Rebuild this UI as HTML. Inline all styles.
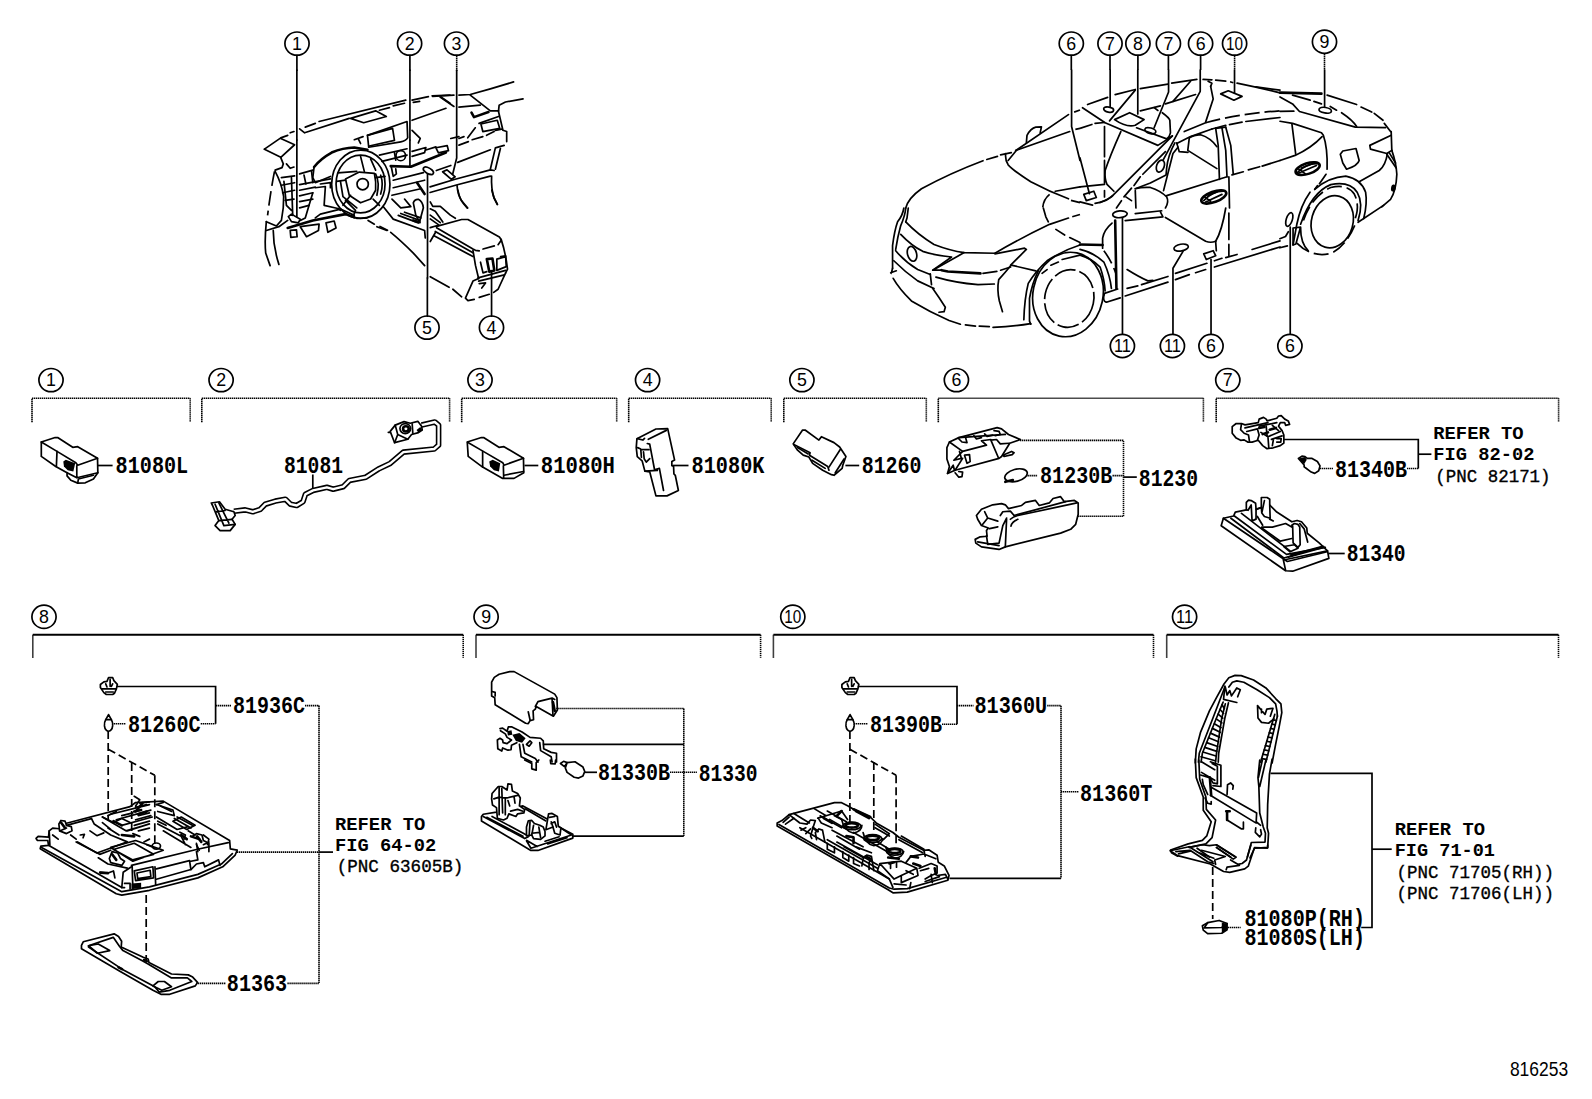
<!DOCTYPE html>
<html><head><meta charset="utf-8"><title>816253</title>
<style>
html,body{margin:0;padding:0;background:#fff;}
body{width:1592px;height:1099px;overflow:hidden;font-family:"Liberation Sans",sans-serif;}
svg{display:block;position:absolute;left:0;top:0;}
.c{fill:none;stroke:#000;stroke-width:1.7;}
.n{font-family:"Liberation Sans",sans-serif;fill:#000;}
.L{font-family:"Liberation Mono",monospace;font-weight:bold;fill:#000;}
.R{font-family:"Liberation Mono",monospace;font-weight:normal;fill:#000;stroke:#000;stroke-width:0.35;}
.bd{fill:none;stroke:#000;stroke-width:1.6;stroke-dasharray:1.4 0.6;}
.bs{fill:none;stroke:#000;stroke-width:2;}
.ld{fill:none;stroke:#000;stroke-width:1.7;}
.lt{fill:none;stroke:#000;stroke-width:1.6;stroke-dasharray:1.4 0.6;}
.dash{fill:none;stroke:#000;stroke-width:1.7;stroke-dasharray:8 4;}
.p{fill:none;stroke:#000;stroke-width:1.3;stroke-linejoin:round;stroke-linecap:round;}
.pt{fill:none;stroke:#000;stroke-width:0.9;stroke-linejoin:round;stroke-linecap:round;}
.pw{fill:#fff;stroke:#000;stroke-width:1.7;stroke-linejoin:round;stroke-linecap:round;vector-effect:non-scaling-stroke;}
.pd{fill:none;stroke:#000;stroke-width:1.2;stroke-dasharray:9 3;stroke-linejoin:round;}
.pf{fill:#000;stroke:none;}
.cs,.cd,.ck{fill:none;stroke:#000;stroke-width:1.7;vector-effect:non-scaling-stroke;stroke-linecap:round;stroke-linejoin:round;}
.cd{stroke-dasharray:15 5;stroke-linecap:butt;}
.ck{stroke-width:2.6;}
</style></head><body>
<svg width="1592" height="1099" viewBox="0 0 1592 1099">
<rect x="0" y="0" width="1592" height="1099" fill="#fff"/>
<!-- 10_car.svg -->
<g transform="translate(880 70) scale(0.12563)">
<path d="M205,1098 Q225,1020 330,945 Q560,820 820,722" class="cs"/>
<path d="M850,712 L935,688 M960,676 L1045,658" class="cs"/>
<path d="M1000,665 Q995,720 1020,755 Q1060,800 1200,890 Q1350,970 1500,1025" class="cs"/>
<path d="M1520,1038 L1592,1056" class="cd"/>
<path d="M1020,720 L1090,635 L1500,355" class="cs"/>
<path d="M1545,335 L1592,318" class="cd"/>
<path d="M1080,640 L1510,490" class="cs"/>
<path d="M1555,472 L1592,465" class="cd"/>
<path d="M1165,580 L1170,520 Q1200,465 1240,455 L1285,452 L1275,500" class="cs"/>
<path d="M1525,0 V450 L1592,720" class="cs"/>
<path d="M1395,965 L1592,930" class="cs"/>
<path d="M1350,990 Q1300,1030 1295,1098" class="cd"/>
</g>
<g transform="translate(1080 70) scale(0.12563)">
<path d="M60,275 L220,218 M280,196 L440,155 M480,148 L700,112 M730,105 L930,75" class="cs"/>
<path d="M980,75 L1050,78 M1020,90 L1050,105 L1040,130" class="cs"/>
<path d="M1080,80 L1160,88 M1200,95 L1215,100" class="cs"/>
<path d="M1250,105 Q1420,140 1592,182" class="cs"/>
<path d="M1400,135 L1592,160" class="cs"/>
<path d="M20,300 L200,420 L620,600 L700,548 L735,525" class="cs"/>
<path d="M0,465 L100,432" class="cd"/>
<path d="M120,425 L195,418" class="cs"/>
<path d="M440,160 L235,405" class="cs"/>
<path d="M880,90 L740,250" class="cs"/>
<path d="M920,195 L680,270 M640,285 L480,325" class="cs"/>
<path d="M590,300 L620,322 M655,340 Q710,380 715,400 L720,500 Q715,530 690,548 L450,460" class="cs"/>
<ellipse cx="228" cy="315" rx="40" ry="20" transform="rotate(10 228 315)" class="cs"/>
<path d="M275,395 L395,340 L510,395 L440,440 Q370,460 275,395 Z" class="cs"/>
<ellipse cx="560" cy="483" rx="45" ry="22" transform="rotate(15 560 483)" class="cs"/>
<path d="M1120,190 L1180,165 L1290,210 L1225,240 Z" class="cs"/>
<path d="M240,0 V290" class="cs"/>
<path d="M460,0 V350" class="cs"/>
<path d="M705,0 V175 L590,460" class="cs"/>
<path d="M957,0 V170 L660,720" class="cs"/>
<path d="M1230,0 V185" class="cs"/>
<path d="M735,525 L250,1010 Q215,1040 160,1055" class="cs"/>
<path d="M680,650 L500,830 M480,850 L430,920 M410,940 L350,1010 M330,1040 L290,1098" class="cs"/>
<ellipse cx="640" cy="765" rx="30" ry="50" transform="rotate(20 640 765)" class="cs"/>
<path d="M755,580 Q700,680 690,780 L685,835 L560,900 L440,945" class="cs"/>
<path d="M780,615 L740,665 L665,960" class="cs"/>
<path d="M770,580 L790,650 L860,655" class="cs"/>
<path d="M830,490 L1000,420" class="cs"/>
<path d="M1000,420 Q1250,350 1592,325" class="cd"/>
<path d="M770,585 L880,530 L1050,470" class="cs"/>
<path d="M1050,470 L1160,440 M1190,435 L1290,415 M1320,410 L1592,378" class="cs"/>
<path d="M1040,130 L1060,230 L1000,415" class="cs"/>
<path d="M870,540 Q900,520 960,515 Q1040,540 1090,610" class="cs"/>
<path d="M870,540 L858,640 L1090,785" class="cs"/>
<path d="M1080,465 L1100,600 L1110,870" class="cs"/>
<path d="M1130,460 L1160,640 L1170,850" class="cs"/>
<path d="M1160,455 L1200,600 L1220,830" class="cs"/>
<path d="M1080,465 L1160,455" class="cs"/>
<path d="M690,1000 L1170,850" class="cs"/>
<path d="M1210,835 L1300,810 M1340,795 L1430,770 M1450,765 L1592,720" class="cs"/>
<path d="M1185,850 L1190,1098" class="cs"/>
<ellipse cx="1065" cy="1010" rx="105" ry="42" transform="rotate(-20 1065 1010)" class="ck"/>
<path d="M985,1040 Q1060,960 1150,965" class="cs"/>
<path d="M1000,1050 L1130,990 M1020,1000 L1110,960 M990,1010 L1040,1045" class="cs"/>
<path d="M440,945 Q500,930 560,935 Q640,960 690,1010 Q710,1050 680,1098" class="cs"/>
<path d="M440,960 L445,1098" class="cs"/>
<path d="M365,1010 L410,1040" class="cs"/>
<path d="M195,450 V690 M195,720 V900 M195,960 V1010" class="cs"/>
<path d="M325,490 Q240,680 200,800 Q195,870 215,910 L270,965" class="cs"/>
<path d="M0,700 L75,985" class="cs"/>
<path d="M0,930 L195,910" class="cs"/>
<path d="M30,990 L110,965 L130,1015 L50,1040 Z" class="cs"/>
<path d="M120,1062 Q200,1050 260,1000" class="cs"/>
<path d="M0,1050 L100,1075" class="cs"/>
</g>
<g transform="translate(1280 70) scale(0.12563)">
<path d="M0,180 L330,188" class="ck"/>
<path d="M375,200 L610,275 M645,295 L730,335 M750,345 L820,400 M830,425 L880,490" class="cs"/>
<path d="M0,215 L100,270 L155,330 L600,455 L840,458" class="cs"/>
<path d="M100,200 L240,240 M270,250 L330,270" class="cs"/>
<path d="M400,290 L450,320 M490,340 Q580,400 610,450" class="cs"/>
<path d="M0,330 L110,328" class="cs"/>
<path d="M355,0 V290" class="cs"/>
<ellipse cx="360" cy="320" rx="50" ry="22" transform="rotate(10 360 320)" class="cs"/>
<path d="M0,408 L100,425 L330,500 L345,520 Q380,620 375,790" class="cs"/>
<path d="M335,530 Q250,620 120,680 L0,720" class="cs"/>
<path d="M95,430 L125,670" class="cs"/>
<ellipse cx="220" cy="785" rx="100" ry="42" transform="rotate(-18 220 785)" class="ck"/>
<path d="M140,815 Q210,740 300,745" class="cs"/>
<path d="M150,820 L290,760 M170,780 L260,745 M150,790 L200,825" class="cs"/>
<path d="M480,670 L500,645 L605,625 L630,720 Q620,760 530,790 L500,740 Z" class="cs"/>
<path d="M885,520 L715,600 L720,630 L850,665 L890,640" class="cs"/>
<path d="M885,490 L890,640" class="cs"/>
<path d="M850,670 L925,780 M870,660 L920,740" class="cs"/>
<path d="M855,665 Q840,760 790,800 L630,890" class="cs"/>
<path d="M890,640 Q925,740 930,830 Q925,960 880,1030 L810,1090" class="cs"/>
<ellipse cx="902" cy="940" rx="8" ry="18" transform="rotate(10 902 940)" class="ck"/>
</g>
<g transform="translate(880 208) scale(0.12563)">
<path d="M205,0 Q200,60 165,140 Q140,230 125,330" class="cs"/>
<path d="M225,0 L215,80 L205,110" class="cs"/>
<path d="M190,0 Q180,60 140,110 Q115,180 100,300 L100,480" class="cs"/>
<path d="M205,110 Q300,210 430,290 Q560,340 670,355 L915,360" class="cs"/>
<path d="M165,210 Q250,300 340,345 Q430,375 570,390 L420,495" class="cs"/>
<path d="M125,340 Q200,430 300,490 L400,530" class="cs"/>
<ellipse cx="255" cy="365" rx="36" ry="60" transform="rotate(-15 255 365)" class="cs"/>
<path d="M110,420 Q200,510 300,580 L430,640" class="cs"/>
<path d="M85,515 L130,500 M100,480 L90,520" class="cs"/>
<path d="M105,560 Q150,640 250,740 Q400,830 550,895 L640,925" class="cs"/>
<path d="M680,930 L760,940 M790,940 L870,945" class="cs"/>
<path d="M900,950 Q1050,945 1200,920" class="cs"/>
<path d="M400,525 L410,610 M420,640 Q470,710 520,790 L510,825 L470,830" class="cs"/>
<path d="M670,355 L420,495 L490,495" class="cs"/>
<path d="M490,495 L540,505 L800,520" class="ck"/>
<path d="M820,520 L930,505 M960,495 L1040,470" class="cs"/>
<path d="M1040,455 L1165,330 L1150,320 L915,365" class="cs"/>
<path d="M915,360 Q1100,250 1350,130 L1500,80" class="cs"/>
<path d="M1530,70 L1592,52" class="cd"/>
<path d="M445,550 Q600,595 780,610 L910,605" class="cs"/>
<path d="M1040,460 Q1000,510 945,570 Q930,650 950,740 L975,825" class="cs"/>
<path d="M1045,455 L1240,500" class="cs"/>
<path d="M1592,295 Q1450,340 1330,420 Q1240,500 1180,600 Q1150,720 1145,890" class="cs"/>
<path d="M1260,500 Q1210,600 1190,720 L1190,900 L1200,925" class="cs"/>
<path d="M1360,455 L1420,430 M1450,410 L1592,375" class="cs"/>
<path d="M1300,0 L1320,70 L1340,110 M1400,170 L1470,215 M1510,235 L1592,275" class="cs"/>
<path d="M1290,520 L1330,490" class="cs"/>
</g>
<g transform="translate(1080 208) scale(0.12563)">
<ellipse cx="318" cy="50" rx="58" ry="27" transform="rotate(-5 318 50)" class="cs"/>
<path d="M338,80 V1000" class="cs"/>
<path d="M280,100 L290,640" class="ck"/>
<path d="M255,120 Q190,175 180,240 L180,320" class="cs"/>
<path d="M0,290 L180,295" class="ck"/>
<path d="M360,100 L660,70 L640,30" class="cs"/>
<path d="M440,45 L650,22" class="cs"/>
<path d="M680,75 L1000,265 Q1040,280 1080,265" class="cs"/>
<path d="M1080,265 Q1130,180 1160,0" class="cs"/>
<path d="M1080,270 L1085,340" class="cs"/>
<path d="M1185,40 V250 M1185,290 V380" class="cs"/>
<path d="M375,490 Q470,550 540,580 L580,575" class="cs"/>
<path d="M375,640 L460,620 M490,610 L700,545 M760,520 L1010,440 M1070,420 L1130,400 M1160,395 L1250,370 M1370,330 L1592,262" class="cs"/>
<path d="M210,750 Q175,740 195,680 L300,645" class="cs"/>
<path d="M210,750 L320,715 M360,700 L700,590 M760,570 L870,530 M920,515 L1000,490 M1070,470 L1592,310" class="cs"/>
<ellipse cx="805" cy="315" rx="58" ry="27" transform="rotate(-10 805 315)" class="cs"/>
<path d="M820,345 L740,480 V1000" class="cs"/>
<path d="M985,365 L1060,340 L1080,380 L1005,410 Z" class="cs"/>
<path d="M1043,410 V1000" class="cs"/>
<path d="M0,330 Q100,350 190,430 Q240,540 250,640" class="cs"/>
<path d="M0,375 Q90,400 160,470 Q195,570 200,660" class="cs"/>
<path d="M190,340 Q250,420 285,520" class="cd"/>
</g>
<g transform="translate(1180 130) scale(0.18843)">
<path d="M775,235 L740,285 M730,295 L715,315" class="cs"/>
<path d="M715,315 Q790,250 880,245 Q960,260 985,330 Q995,390 975,470" class="cs"/>
<path d="M690,330 Q640,400 620,500 L600,610" class="cs"/>
<path d="M640,500 Q700,330 800,290 Q900,270 940,330 Q975,390 945,480" class="cs"/>
<path d="M655,480 Q700,350 800,305 Q890,285 925,340 Q955,400 930,470" class="cd"/>
<ellipse cx="808" cy="487" rx="110" ry="140" transform="rotate(16 808 487)" class="cs"/>
<path d="M620,600 Q700,680 800,655 Q880,620 930,500" class="cd"/>
<path d="M600,520 L640,515 L615,605 L600,610 Z" class="cs"/>
<path d="M640,520 Q640,600 680,640" class="cs"/>
<path d="M945,490 L1080,400" class="cs"/>
<ellipse cx="580" cy="475" rx="16" ry="38" transform="rotate(18 580 475)" class="cs"/>
<path d="M585,515 V1080" class="cs"/>
<path d="M530,577 L560,565 L575,540" class="cs"/>
<path d="M530,625 L570,615" class="cs"/>
</g>
<ellipse cx="1068" cy="294.5" rx="35" ry="42.5" transform="rotate(12 1068 294.5)" class="cs"/>
<ellipse cx="1069.3" cy="298.5" rx="24.5" ry="29" transform="rotate(12 1069.3 298.5)" class="cd" style="stroke-dasharray:22 4"/>
<!-- 20_dash.svg -->
<g transform="translate(250 70) scale(0.12563)">
<path d="M373,0 V557" class="cs"/>
<path d="M1273,0 V557" class="cs"/>
<path d="M440,455 L520,425 M550,410 L1240,240" class="cs"/>
<path d="M395,468 L435,500 L790,385" class="cs"/>
<path d="M800,385 L1000,325 L1085,370 L905,420 Z" class="cs"/>
<path d="M1030,320 L1110,300 M1140,285 L1230,265" class="cs"/>
<path d="M1290,240 L1420,212 M1450,205 L1592,200" class="cs"/>
<path d="M1300,258 L1350,250" class="cs"/>
<path d="M115,630 L245,540 L300,520 M320,500 L350,490" class="cs"/>
<path d="M245,545 L355,595 L245,695 L115,630" class="cs"/>
<path d="M935,520 L1250,410 L1255,540 Q1240,565 1200,572 L945,615 Z" class="cs"/>
<path d="M935,520 L1135,465 L1150,560 L950,605" class="cs"/>
<path d="M830,555 L900,530 M860,545 L880,585" class="cs"/>
<path d="M1290,400 L1560,305" class="cs"/>
<path d="M1290,480 L1355,545 L1340,580" class="cs"/>
<path d="M1520,215 L1592,265" class="cs"/>
</g>
<g transform="translate(250 140) scale(0.12563)">
<path d="M373,0 V610" class="cs"/>
<path d="M1273,0 V205" class="cs"/>
<path d="M1413,270 V1098" class="cs"/>
<path d="M305,610 L330,590 L400,630 L385,660 L330,650 Z" class="cs"/>
<ellipse cx="1420" cy="245" rx="45" ry="22" transform="rotate(30 1420 245)" class="cs"/>
<ellipse cx="882" cy="352" rx="232" ry="272" transform="rotate(0 882 352)" class="cs"/>
<ellipse cx="880" cy="350" rx="195" ry="230" transform="rotate(0 880 350)" class="cs"/>
<ellipse cx="897" cy="352" rx="45" ry="45" transform="rotate(0 897 352)" class="cs"/>
<path d="M760,310 L870,255 L990,265 Q1005,330 1000,400 L960,470 L880,500 L790,440 Z" class="cs"/>
<path d="M690,330 L760,320 M700,262 L850,250 M880,130 L910,250 M960,150 L1000,240" class="cs"/>
<path d="M1000,300 L1075,290 M800,440 L740,520 M980,470 L1030,520" class="cs"/>
<path d="M1000,270 Q1035,340 1010,440 M1040,280 Q1065,350 1040,430" class="cs"/>
<path d="M720,330 L740,450 L850,540 M760,480 L840,560 L820,610" class="cs"/>
<path d="M510,215 Q560,150 650,100 Q740,62 830,60 L935,78" class="ck"/>
<path d="M510,215 L500,300 L520,340 L640,290" class="cs"/>
<path d="M245,140 L265,190 L255,220 L200,240" class="cs"/>
<path d="M195,250 Q165,400 140,600" class="cd"/>
<path d="M130,650 L210,685 L250,640 Q270,540 268,450 Q250,340 200,250" class="cs"/>
<path d="M130,650 Q115,800 125,900 L160,1000" class="cs"/>
<path d="M185,720 Q185,850 230,990" class="cs"/>
<path d="M130,720 L230,690 L300,640" class="cs"/>
<path d="M290,190 L320,225 L350,215" class="cs"/>
<path d="M250,300 L355,285 M395,270 L500,240 M395,355 L640,310 M395,400 L520,375 M395,445 L500,420 M395,490 L500,470 M395,540 L470,520" class="cs"/>
<path d="M430,280 L445,350 M490,250 L500,340 M330,300 L340,600 M270,330 L290,520 L330,560" class="cs"/>
<path d="M250,360 L355,340 M260,420 L355,400 M280,480 L350,470" class="cs"/>
<path d="M500,420 L470,520 L440,620 L400,640" class="cs"/>
<path d="M520,380 L600,370 L590,520 L700,545 L720,560" class="cs"/>
<path d="M560,350 L640,340 L640,380" class="cs"/>
<path d="M520,620 L560,590 L720,550 L830,600" class="cs"/>
<path d="M300,700 L500,640 L760,590 L830,615" class="ck"/>
<path d="M320,720 L370,715 L375,770 L325,775 Z" class="cs"/>
<path d="M400,690 L550,670 L545,720 L450,770 Z" class="cs"/>
<path d="M605,660 L670,645 L685,700 L620,735 Z" class="cs"/>
<path d="M1030,120 L1250,70 M1050,170 L1250,120" class="cs"/>
<path d="M1120,208 L1280,213 L1560,100" class="ck"/>
<path d="M1480,62 L1570,45 L1580,85 L1500,102 Z" class="cs"/>
<path d="M1125,215 L1140,290 L1165,270 L1160,230" class="cs"/>
<ellipse cx="1200" cy="125" rx="38" ry="40" transform="rotate(0 1200 125)" class="cs"/>
<path d="M1150,100 L1160,160" class="cs"/>
<path d="M1290,130 L1390,100 L1400,60 L1290,90" class="cs"/>
<path d="M1400,80 L1480,55" class="cs"/>
<path d="M1140,320 L1380,260 M1140,380 L1390,320 M1130,440 L1350,390" class="cs"/>
<path d="M1330,340 L1390,430" class="ck"/>
<path d="M1300,500 Q1310,470 1340,472 Q1375,490 1380,540 L1350,650 L1320,600 Z" class="cs"/>
<path d="M1130,470 L1200,540 L1280,530 L1230,470" class="cs"/>
<path d="M1060,530 L1140,630 L1390,720 L1395,780" class="cs"/>
<path d="M1180,600 L1340,660 M1200,585 L1350,640 M1230,575 L1360,620" class="cs"/>
<path d="M1300,640 L1350,655" class="ck"/>
<path d="M850,625 L930,620 M940,640 L990,670 M1010,690 L1090,720" class="cs"/>
<path d="M1120,735 Q1200,800 1300,900 L1390,1000" class="cs"/>
</g>
<g transform="translate(420 70) scale(0.12563)">
<path d="M292,0 V700 L260,830" class="cs"/>
<path d="M180,810 L215,795 L280,850 L250,870 Z" class="cs"/>
<path d="M100,210 L270,200 M310,200 L400,195 L560,150 L745,95" class="cs"/>
<path d="M400,200 L560,325 L625,325" class="cs"/>
<path d="M160,215 L270,290" class="cs"/>
<path d="M310,295 L480,280" class="cs"/>
<path d="M625,325 L630,280 L680,255 L820,230" class="cs"/>
<path d="M410,340 L430,375 L545,335" class="ck"/>
<path d="M470,425 L625,370" class="cs"/>
<path d="M485,430 L615,400 L635,465 L500,490 Z" class="cs"/>
<path d="M625,330 L660,480 L690,490 L690,570" class="cs"/>
<path d="M380,540 L440,460" class="cs"/>
<path d="M310,545 L350,530 M310,598 L385,570 M415,555 L500,530 M530,520 L590,490 M600,480 L650,470" class="cs"/>
<path d="M300,735 L560,635" class="cs"/>
<path d="M560,790 L600,620 L670,600 M600,790 L640,625" class="cs"/>
<path d="M80,930 L280,870 L560,795 L590,800" class="cs"/>
<path d="M80,975 L290,915 L560,845" class="cs"/>
<path d="M570,845 Q565,950 590,1020 L615,1070" class="cs"/>
<path d="M295,920 Q300,990 330,1040 L380,1098" class="cs"/>
<path d="M245,545 L310,530" class="cs"/>
<path d="M130,800 L245,760" class="cs"/>
</g>
<g transform="translate(380 190) scale(0.12563)">
<path d="M377,700 V1005" class="cs"/>
<path d="M888,650 V1005" class="cs"/>
<path d="M450,290 L650,235 L700,235 L950,375 L965,395" class="cs"/>
<path d="M965,395 Q1000,500 1015,630 L1000,660" class="cs"/>
<path d="M450,300 L740,470 L760,480 L790,485" class="cs"/>
<path d="M440,330 L740,500 M430,365 L740,530" class="cs"/>
<path d="M740,480 L760,600 L785,705" class="cs"/>
<path d="M820,470 L910,445 M940,435 L965,400" class="cs"/>
<path d="M785,705 L740,725 L680,860 L700,880 L750,870 M790,855 L870,830 M905,815 L940,790 L1000,660" class="cs"/>
<path d="M780,700 L1000,640 M785,725 L990,675" class="cs"/>
<path d="M800,575 L820,660 L850,650" class="cs"/>
<path d="M850,550 L895,545 L910,640 L870,650 Z" class="ck"/>
<path d="M930,550 L1000,530 L1005,610 L930,640 Z" class="cs"/>
<path d="M960,530 L1000,525" class="cs"/>
<path d="M790,745 L840,740 L810,780" class="cs"/>
<path d="M0,290 L60,320" class="cs"/>
<path d="M400,690 L550,775 M580,790 L650,850" class="cs"/>
<path d="M620,0 Q630,80 695,145" class="cs"/>
<path d="M890,0 Q900,60 935,115" class="cs"/>
<path d="M400,95 L420,130 L480,130 L560,200 L600,225" class="cs"/>
<path d="M400,150 L440,170 L500,255 M400,200 L480,260 M400,230 L470,280 L450,290 M400,300 L450,285 M400,410 L440,340" class="cs"/>
</g>
<!-- 30_row1.svg -->
<g transform="translate(30 425) scale(0.06281)">
<path d="M180,270 L400,200 L440,200 L680,355 L760,345 L1075,530 L1080,760 L1010,860 L880,920 L760,925 L650,880 L590,810 L590,760 L410,660 L180,500 Z" class="pw"/>
<path d="M180,270 L430,420 L730,600 L760,640 L1075,530" class="cs"/>
<path d="M745,650 L745,840 L1080,760 M745,840 L590,760 M430,420 L420,660" class="cs"/>
<path d="M530,580 L570,555 L720,610 L690,740 L600,720 L540,660 Z" class="pf"/>
<path d="M760,925 L770,860 L1010,800" class="cs"/>
</g>
<g transform="translate(455 425) scale(0.06281)">
<path d="M195,270 L420,200 L455,200 L700,355 L780,345 L1090,530 L1095,760 L940,850 L760,850 L440,670 L210,500 Z" class="pw"/>
<path d="M200,275 L450,420 L760,600 L780,640 L1090,530" class="cs"/>
<path d="M770,650 L775,840 M440,420 L440,670" class="cs"/>
<path d="M545,580 L600,555 L720,610 L700,740 L620,720 L560,660 Z" class="pf"/>
<path d="M780,800 L1090,740" class="cs"/>
</g>
<g transform="translate(620 420) scale(0.06911)">
<path d="M245,270 L520,130 L690,125 L790,580 L750,600 L750,660 L775,670 L780,780 L800,800 L845,1020 L680,1098 L520,1098 L430,750 L360,740 L320,590 L250,530 L235,400 Z" class="pw"/>
<path d="M410,280 L670,150 M250,270 L330,290 L355,265" class="cs"/>
<path d="M395,340 L430,350 L500,720 L570,700 L630,1020 M360,740 L540,730" class="cs"/>
<path d="M320,430 L420,430 M340,460 L350,560 L380,610 L430,560 M255,400 L300,420 L310,540" class="cs"/>
</g>
<g transform="translate(785 420) scale(0.06281)">
<path d="M130,380 L280,160 L320,160 L540,320 L580,265 L780,360 L870,430 L970,580 L920,720 L910,770 L780,880 L740,870 L600,800 L440,690 L380,590 L290,560 L200,480 Z" class="pw"/>
<path d="M140,390 L400,520 L390,560 L680,740 L700,800" class="cs"/>
<path d="M880,470 L700,750 M940,620 L800,840 M200,440 L370,540 M430,640 L640,770" class="cs"/>
</g>
<path d="M233.9,511.2 L245.2,509.9 L252.8,511.8 L260.3,509.3 L265.3,504.2 L275.4,501.1 L285.4,499.2 L290.5,504.2 L296.7,505.5 L303,501.7 L305.5,494.2 L313.1,490.4 L326.9,487.3 L333.2,489.2 L343.2,486.7 L349.5,480.4 L365.8,477.2 L378.4,469.1 L390.2,463.4 L403.4,452.1 L434.2,449 L438.6,445.2 L438.6,425.1 L434.8,422 L421.6,425.1" fill="none" stroke="#000" stroke-width="5.6" stroke-linejoin="round"/>
<path d="M233.9,511.2 L245.2,509.9 L252.8,511.8 L260.3,509.3 L265.3,504.2 L275.4,501.1 L285.4,499.2 L290.5,504.2 L296.7,505.5 L303,501.7 L305.5,494.2 L313.1,490.4 L326.9,487.3 L333.2,489.2 L343.2,486.7 L349.5,480.4 L365.8,477.2 L378.4,469.1 L390.2,463.4 L403.4,452.1 L434.2,449 L438.6,445.2 L438.6,425.1 L434.8,422 L421.6,425.1" fill="none" stroke="#fff" stroke-width="2.4" stroke-linejoin="round"/>
<g transform="translate(200 405) scale(0.12563)">
<path d="M90,780 L155,770 L200,830 L270,850 L280,880 L255,910 L280,950 L240,1000 L160,1000 L120,960 L150,920 L100,800 Z" class="pw"/>
<path d="M120,790 L190,960 M150,780 L230,940 M150,920 L255,910 M190,960 L280,950 M130,850 L200,840" class="cs"/>
</g>
<g transform="translate(350 405) scale(0.06281)">
<path d="M640,420 L720,320 L860,265 L960,290 L1080,260 L1140,340 L1150,400 L1090,440 L980,470 L920,545 L710,600 Z" class="pw"/>
<ellipse cx="880" cy="375" rx="85" ry="80" transform="rotate(0 880 375)" class="cs"/>
<ellipse cx="890" cy="380" rx="45" ry="42" transform="rotate(0 890 380)" class="ck"/>
<path d="M720,320 L760,470 L920,545 M760,470 L710,600 M990,300 L1000,450" class="cs"/>
<path d="M1060,400 L1120,350 L1150,400 L1090,440 Z" class="pf"/>
<path d="M610,435 L640,435" class="cs"/>
</g>
<g transform="translate(940 415) scale(0.12563)">
<path d="M75,215 L150,180 L455,100 L490,110 L545,155 L640,195 L555,225 L490,330 L470,345 L120,440 L60,465 L75,410 L55,350 L55,260 Z" class="pw"/>
<path d="M75,215 L180,290 L370,240 L330,205 L405,195" class="cs"/>
<path d="M145,185 L175,215 L215,220 L205,185 M270,165 L290,190 L330,180 M355,150 L375,170 L420,160 M430,125 L470,130 L480,155 L440,165" class="cs"/>
<path d="M150,180 L520,155 M405,200 L465,340 M405,200 L450,195 L480,230 L550,225" class="cs"/>
<path d="M180,290 L110,360 L170,345 L155,290 M195,320 L235,315 L240,370 L215,385 Z M180,345 L120,440" class="cs"/>
<path d="M500,320 L570,290 L590,300 L575,315 L510,330 Z" class="pw"/>
<path d="M60,465 L105,400 L115,440 M120,460 L150,495 L175,490 L180,455 L150,450" class="cs"/>
<ellipse cx="605" cy="480" rx="92" ry="48" transform="rotate(-15 605 480)" class="pw"/>
<path d="M520,532 L580,517" class="ck"/>
<path d="M290,800 L330,750 L420,715 L490,705 L520,715 L545,745 L650,720 L680,695 L760,680 L790,720 L870,700 L900,665 L960,650 L990,690 L1070,680 L1100,700 L1100,790 L1080,870 L1040,910 L960,940 L520,1050 L470,1070 L330,1050 L285,1020 L280,990 L320,970 L375,965 L370,920 L385,900 L330,880 L300,830 Z" class="pw"/>
<path d="M560,830 Q580,810 620,800 L1090,700 M565,885 Q570,850 620,830" class="cs"/>
<path d="M530,820 L500,880 L470,1020 L380,1030 L370,960 M590,800 L1000,690 M520,1050 L530,830" class="cs"/>
<path d="M355,770 L380,820 L340,870 M380,820 L460,845 M480,800 L500,770 L560,765 L590,800 M395,905 L460,890 M300,1010 L470,1040" class="cs"/>
</g>
<g transform="translate(1215 405) scale(0.08826)">
<path d="M195,245 L240,210 L300,210 L340,225 L490,200 L500,160 L550,140 L580,160 L590,180 L700,150 L720,125 L750,120 L790,160 L830,180 L845,220 L800,230 L790,200 L740,200 L720,240 L760,290 L780,340 L780,430 L740,460 L660,485 L590,495 L540,460 L490,400 L420,420 L370,420 L330,395 L290,400 L240,375 L195,320 Z" class="pw"/>
<path d="M300,215 L290,280 L330,320 L380,340 L390,410 M340,260 L600,200 M360,300 L480,270 L500,340 L480,400" class="cs"/>
<path d="M500,240 L700,200 M520,310 L600,360 L610,490 M600,360 L740,300 M640,390 L760,350 M660,400 L650,460" class="cs"/>
<path d="M700,380 L750,380 L745,420 L700,420 M580,240 L590,350 M650,230 L720,290" class="cs"/>
<path d="M500,260 L560,250 M620,280 L690,260 M540,330 L600,310" class="ck"/>
<path d="M945,605 L985,580 L1020,585 L1045,605 L1100,605 L1160,640 L1190,690 L1175,745 L1130,775 L1090,760 L1010,700 L1010,680 Z" class="pw"/>
<path d="M945,605 L1020,590 L1040,620 L1010,670 Z" class="pf"/>
</g>
<g transform="translate(1215 490) scale(0.08826)">
<path d="M95,320 L210,295 L230,250 L355,225 L355,140 L380,115 L410,120 L460,150 L465,215 L525,200 L525,85 L590,85 L620,105 L620,170 L700,250 L870,360 L930,345 L980,360 L1040,430 L1045,490 L1180,600 L1275,690 L1290,775 L880,920 L800,915 L70,405 Z" class="pw"/>
<path d="M95,320 L790,790 L1275,690 M770,770 L800,910" class="cs"/>
<path d="M180,320 L780,770 M220,295 L810,730 L1250,650 M300,265 L850,690 M790,790 L820,810 L1270,700 M780,770 L1230,640" class="cs"/>
<path d="M830,760 L1230,650 M860,735 L1210,640" class="cs"/>
<path d="M355,225 L375,230 L410,170 L420,350 L465,330 L465,215 M525,200 L530,260 L560,300 L625,320 L620,170 M560,120 L530,260" class="cs"/>
<path d="M870,400 L900,380 L940,390 L960,420 L965,620 L940,650 L885,600 L880,410 M960,380 L1010,440 L1050,590" class="cs"/>
<path d="M530,420 L650,420 L800,380 L870,420 M530,430 L740,580 L870,550 M780,640 L900,620 L940,660 L850,700 Z" class="cs"/>
<path d="M470,220 L520,200 M480,300 L540,400 M620,330 L660,350" class="cs"/>
</g>
<!-- 40_row2.svg -->
<g transform="translate(25 770) scale(0.13827)">
<path d="M80,495 L95,480 L170,485 L175,440 L200,420 L250,425 L300,385 L760,265 L800,235 L1000,225 L1480,510 L1485,570 L1535,580 L1520,615 L1430,700 L1250,780 L900,870 L700,905 L660,895 L110,570 L115,550 L170,545 L165,510 L90,510 Z" class="pw"/>
<path d="M120,560 L700,880 L900,845 L1250,755 L1420,680 L1500,605" class="cs"/>
<path d="M170,545 L700,850 L720,850 M175,440 L180,545" class="cs"/>
<path d="M770,690 L1240,575 L1470,525 M700,850 L710,740 L770,700" class="cs"/>
<path d="M775,695 L780,860 M940,700 L945,830" class="cs"/>
<path d="M790,730 L925,700 L930,780 L800,800 Z M810,745 L905,725 L910,770 L815,785 Z" class="cs"/>
<path d="M950,715 L1190,655 L1200,720 L950,790 M1200,660 L1250,650 L1240,590" class="cs"/>
<path d="M1200,720 L1240,680 L1290,670 L1300,700 L1400,650 L1410,690" class="cs"/>
<path d="M720,820 L760,820 L760,860" class="cs"/>
<path d="M770,820 L840,815 L840,855 L770,860 Z" class="pf"/>
<path d="M480,350 L500,390 L620,470 L740,520 L630,560 L520,600 L380,520" class="cs"/>
<path d="M400,470 L430,465 L420,490 M470,440 L520,475 L570,455 M370,520 L540,610 L620,580 M530,635 L600,680 L740,710" class="cs"/>
<path d="M640,575 L790,530 L930,610 L780,650 Z M620,560 L800,510 L1000,580 L780,660 Z" class="cs"/>
<path d="M560,340 L730,440 L830,410 M620,320 L900,250 M660,360 L910,290 M700,400 L920,340 M740,440 L900,390" class="cs"/>
<path d="M950,250 L1070,290 L1080,330 L960,300 M950,340 L1100,430 L1180,410 M1070,370 L1130,340 L1230,400 L1170,430 Z" class="cs"/>
<path d="M960,390 L1130,480 L1160,540 M1000,440 L1200,560" class="cs"/>
<path d="M245,390 L260,365 L290,370 L300,400 L335,410 L340,440 L300,460 L250,440 Z" class="pw"/>
<path d="M1210,480 L1240,460 L1280,470 L1290,510 L1330,530 L1330,590 M1240,540 L1260,580" class="cs"/>
<path d="M610,640 L630,590 L670,600 L690,640 L720,660 L700,690 L620,670 Z" class="pw"/>
<path d="M540,740 L600,745 L640,730 L650,780" class="cs"/>
<ellipse cx="950" cy="550" rx="30" ry="22" transform="rotate(0 950 550)" class="cs"/>
<path d="M800,300 L850,240 M820,320 L880,300 M700,470 L790,480 M1130,470 L1170,500" class="ck"/>
<path d="M790,190 L830,215 L800,260 M830,240 L900,230 M800,270 L880,250" class="cs"/>
<path d="M560,340 L640,380 L700,350 L760,380 M600,330 L660,300 M700,330 L780,310" class="cs"/>
<path d="M640,370 L700,400 M790,300 L840,290 M1200,480 L1260,500 M545,742 L600,746" class="ck"/>
<path d="M820,330 L900,310 M800,360 L910,330 M790,400 L900,370 M820,440 L900,420 M780,460 L830,480" class="cs"/>
<path d="M950,250 L1000,235 M980,260 L1060,300 M960,370 L1020,400 M1080,350 L1200,420 M1100,340 L1210,400" class="cs"/>
<path d="M1120,450 L1160,470 L1150,500 M1180,440 L1230,470 M1290,470 L1330,500 L1320,540 M1240,530 L1250,590 M1290,540 L1330,520" class="cs"/>
<path d="M300,400 L480,352 M255,440 L300,420 M200,470 L240,500 M330,470 L370,500" class="cs"/>
<path d="M600,420 L680,470 M560,380 L620,430 M860,520 L900,500 M880,540 L930,560" class="cs"/>
<path d="M260,380 L290,420 M630,610 L660,650 M1245,480 L1275,520" class="ck"/>
</g>
<g transform="translate(70 925) scale(0.08826)">
<path d="M130,230 L150,190 L500,100 L550,130 L585,185 L580,250 L830,365 L885,385 L895,425 L1150,555 L1340,565 L1390,590 L1445,650 L1420,690 L1130,785 L1030,785 L940,740 L560,520 L130,270 Z" class="pw"/>
<path d="M210,235 L490,140 L560,240 L600,290 L830,410 L880,440 L1150,600 L1330,600 L1380,640 L1130,740 L1010,760 L960,700 L590,500 L210,250 Z" class="cs"/>
<path d="M210,235 L320,215 L450,290 L310,320 Z M940,690 L1000,640 L1070,640 L1150,700 L1040,740 Z" class="cs"/>
<path d="M550,480 L590,500 M840,395 L870,410" class="ck"/>
</g>
<g transform="translate(85 670) scale(0.06281)">
<path d="M245,230 L300,190 L350,180 L375,120 L440,120 L460,170 L515,230 L500,300 L470,370 L440,390 L340,390 L300,360 L245,280 Z" class="pw"/>
<path d="M270,300 L490,300 M330,350 L450,350 M400,150 L400,260 M330,220 L350,270 M440,220 L420,260" class="cs"/>
<path d="M330,790 L375,710 L420,790 Q445,830 440,890 Q430,970 375,975 Q320,970 310,890 Q305,830 330,790 Z" class="pw"/>
<path d="M330,790 L420,790" class="cs"/>
</g>
<g transform="translate(826.5 670) scale(0.06281)">
<path d="M245,230 L300,190 L350,180 L375,120 L440,120 L460,170 L515,230 L500,300 L470,370 L440,390 L340,390 L300,360 L245,280 Z" class="pw"/>
<path d="M270,300 L490,300 M330,350 L450,350 M400,150 L400,260 M330,220 L350,270 M440,220 L420,260" class="cs"/>
<path d="M330,790 L375,710 L420,790 Q445,830 440,890 Q430,970 375,975 Q320,970 310,890 Q305,830 330,790 Z" class="pw"/>
<path d="M330,790 L420,790" class="cs"/>
</g>
<g transform="translate(470 665) scale(0.08826)">
<path d="M245,195 L275,140 L330,105 L450,75 L500,75 L960,330 L985,370 L990,510 L945,580 L750,470 L740,500 L715,520 L720,620 L680,630 L660,665 L630,660 L285,450 L280,370 L245,350 Z" class="pw"/>
<path d="M740,470 L770,415 L930,375 L960,390 M930,380 L940,570 M660,530 L680,620 M250,300 L285,310 L285,350" class="cs"/>
<path d="M940,420 L960,520" class="ck"/>
<path d="M340,720 L370,715 L420,750 L435,700 L470,700 L590,760 L680,820 L800,830 L830,860 L835,950 L920,990 L980,1000 L980,1099" class="cs"/>
<path d="M345,745 L400,780 L420,820 L470,850 L420,890 L375,880 L370,850 L340,830 L310,850 L315,950 L360,975 L370,940 L430,965 L465,960 L470,910 L530,880" class="cs"/>
<path d="M560,900 L580,1040 L700,1099 M600,900 L620,1000 L740,1060 L770,1099 M790,880 L800,970 L920,1040 L930,1099" class="cs"/>
<path d="M480,790 L560,770 L630,830 L590,880 L520,860 Z" class="pf"/>
<path d="M420,750 L470,740 L480,790 L430,800 Z" class="pf"/>
<path d="M640,900 L680,860 L700,880 L670,920 Z" class="cs"/>
</g>
<g transform="translate(470 760) scale(0.08826)">
<path d="M620,0 L700,40 L700,100 L750,115 L750,30 L780,0 M910,0 L915,40 L965,45 L970,0" class="cs"/>
<path d="M1025,40 L1060,15 L1100,30 L1070,75 Z" class="pw"/>
<path d="M1100,30 L1190,20 L1280,80 L1300,130 L1280,180 L1230,205 L1180,195 L1100,140 L1080,90 Z" class="pw"/>
<path d="M130,690 L130,640 L150,615 L300,590 L600,520 L880,670 L1030,770 L1165,840 L1165,885 L770,1025 L690,1025 Z" class="pw"/>
<path d="M630,555 L860,690 M150,640 L620,890 L660,870 M190,650 L600,865 M250,640 L640,850" class="cs"/>
<path d="M1030,770 L1150,850 L690,1000 L640,915 M850,920 L1010,870 M880,950 L1100,880 M640,910 L760,980" class="cs"/>
<path d="M250,380 L320,300 L360,300 L420,340 L430,270 L470,275 L480,350 L540,380 L570,430 L560,520 L620,560 L610,600 L540,610 L520,640 L440,610 L420,660 L380,680 L310,660 L300,540 L255,510 L245,440 Z" class="pw"/>
<path d="M330,310 L330,620 M360,320 L370,600 M400,440 L400,620 M270,440 L330,420 L420,430 L540,400 M430,460 L450,520 M500,420 L510,490 M460,580 L540,560 L600,580" class="cs"/>
<path d="M640,860 L640,760 L660,690 L700,685 L730,720 L790,740 L830,760 L850,810 L850,860 L800,900 L720,890 L700,850 Z" class="pw"/>
<path d="M680,700 L670,860 M720,740 L700,850 M780,760 L800,880 M700,830 L790,820" class="cs"/>
<path d="M880,670 L890,610 L930,605 L990,640 L1000,750 L1030,770 L1020,850 L960,830 L940,760 L860,790 Z" class="pw"/>
<path d="M900,650 L960,640 M920,700 L940,760 M920,720 L960,700 L980,760" class="cs"/>
</g>
<g transform="translate(770 780) scale(0.11935)">
<path d="M60,360 L100,340 L160,290 L540,190 L600,190 L650,215 L700,245 L840,310 L890,360 L1030,440 L1080,480 L1290,590 L1330,585 L1400,630 L1410,690 L1460,720 L1500,800 L1490,840 L1150,940 L1030,945 L990,920 L60,385 Z" class="pw"/>
<path d="M700,245 L840,310" class="ck"/>
<path d="M75,372 L1000,905 L1040,915 L1150,910 L1480,815" class="cs"/>
<path d="M160,290 L250,360 L310,370 L340,335 L380,340 L360,400 L340,470 L350,490 M200,280 L330,360" class="cs"/>
<path d="M370,240 L470,300 L600,260 M400,320 L470,300 M410,330 L430,360 L520,400" class="cs"/>
<path d="M390,500 L380,440 L410,410 L440,420 L460,520 M770,720 L780,660 L810,630 L850,640 L870,760 M830,750 L830,690 L850,670" class="cs"/>
<ellipse cx="685" cy="385" rx="75" ry="32" transform="rotate(0 685 385)" class="pw"/>
<ellipse cx="685" cy="380" rx="52" ry="19" transform="rotate(0 685 380)" class="ck"/>
<ellipse cx="860" cy="490" rx="75" ry="32" transform="rotate(0 860 490)" class="pw"/>
<ellipse cx="860" cy="485" rx="52" ry="19" transform="rotate(0 860 485)" class="ck"/>
<ellipse cx="1045" cy="600" rx="70" ry="30" transform="rotate(0 1045 600)" class="pw"/>
<ellipse cx="1045" cy="595" rx="48" ry="17" transform="rotate(0 1045 595)" class="ck"/>
<path d="M250,400 L1000,830 M480,500 L900,740 M560,470 L750,580 M700,440 L980,600 M880,370 L1000,450 L950,500 M720,560 L850,610" class="cs"/>
<path d="M480,530 L480,580 L540,610 L540,560 M610,600 L610,650 L660,680 L660,630 M700,650 L700,700 L750,720" class="cs"/>
<path d="M600,260 L650,330 M540,300 L600,330 M500,330 L620,400" class="cs"/>
<path d="M920,700 L1100,680 L1230,740 L1100,800 L1040,830 Z M1100,800 L1100,860 M1230,740 L1240,800 L1100,860 M920,700 L900,760 L1000,830 L1030,900" class="cs"/>
<path d="M1140,690 L1180,640 L1290,620 L1390,660 M1290,590 L1300,640 M1250,740 L1350,700 L1400,720 L1400,780 L1350,800 L1300,830 M1180,860 L1170,910 M1350,790 L1360,860 M1400,800 L1470,790 L1490,830" class="cs"/>
<path d="M640,470 L700,480 L700,530 M990,650 L1080,660 M1180,640 L1240,650" class="ck"/>
<path d="M420,300 L600,400 M480,260 L640,350 M520,420 L780,560 M560,520 L900,710 M620,560 L780,650 M880,400 L1000,470 M900,520 L1000,580 M1080,500 L1280,610 M1100,470 L1290,580" class="cs"/>
<path d="M600,330 Q620,430 700,445 Q770,430 770,380 M780,440 Q800,540 870,550 Q940,540 945,490 M970,560 Q985,640 1050,655 Q1110,645 1120,600" class="cs"/>
<path d="M450,320 L520,360 M560,300 L600,260 M720,260 L830,320 M360,400 L400,430 M800,640 L840,660 M1000,700 L1040,690 M1200,700 L1260,720 M1380,740 L1390,790" class="ck"/>
<path d="M1010,700 L1010,740 M1060,690 L1060,730 M1140,760 L1200,790 M1260,760 L1330,740 M1300,850 L1420,810 M1040,870 L1140,880" class="cs"/>
<path d="M110,355 L160,310 M130,370 L200,320 M260,420 L300,400 M300,450 L340,410" class="cs"/>
</g>
<g transform="translate(1160 665) scale(0.08826)">
<path d="M400,1110 L410,950 L460,760 L560,520 L640,370 L725,215 L780,145 L850,118 L920,120 L1060,170 L1200,260 L1310,380 L1370,440 L1380,540 L1350,700 L1310,900 L1270,1110" class="cs"/>
<path d="M735,250 L600,600 L445,1000 L435,1100" class="cs"/>
<path d="M715,420 L640,600 L480,1000 L465,1100 M740,440 L700,600 L640,1000 L630,1100 M775,430 L735,600 L665,1000 L660,1100" class="cs"/>
<path d="M703,450 L730,495 M681,504 L721,549 M659,557 L711,602 M638,611 L701,656 M616,665 L692,710 M594,718 L682,763 M572,772 L673,817 M551,825 L663,870 M529,879 L654,924 M507,933 L644,978 M486,986 L634,1031 M464,1040 L625,1085" class="cs"/>
<path d="M780,250 L820,195 L870,180 L950,195 L1100,280 L1240,370 L1310,440 L1325,520 L1330,580" class="cs"/>
<path d="M740,250 L760,340 L790,290 L810,350 L870,260 L910,280 L880,360 M735,240 L720,390 L870,425" class="cs"/>
<path d="M1105,460 L1110,600 L1150,650 L1230,660 L1290,610 M1105,460 L1190,560 L1210,500 L1280,490 L1250,580 M1150,540 L1150,500" class="cs"/>
<path d="M1300,560 L1140,1100 M1330,580 L1200,1100" class="cs"/>
<path d="M1282,620 L1318,630 M1268,669 L1305,679 M1253,718 L1293,728 M1239,767 L1281,777 M1224,816 L1269,826 M1210,864 L1256,874 M1195,913 L1244,923 M1181,962 L1232,972 M1166,1011 L1220,1021 M1152,1060 L1208,1070" class="cs"/>
</g>
<g transform="translate(1160 760) scale(0.08826)">
<path d="M400,-10 L410,200 L490,420 L490,570 L580,700 L530,860 L480,910 L320,950 L120,1020 L130,1050 L200,1090" class="cs"/>
<path d="M1270,-10 L1240,160 L1220,500 L1215,770 L1230,830 L1220,990 L1070,1000 L1020,1110" class="cs"/>
<path d="M440,0 L450,220 L520,420 L525,560 L630,680 L590,880 L520,950 L330,990" class="cs"/>
<path d="M470,20 L620,110 M470,140 L620,230 M460,170 L560,200 M480,220 L490,280 L540,390" class="cs"/>
<path d="M570,20 L690,60 L690,300 L600,290 M590,40 L650,70 L650,270 L600,260 L560,190" class="cs"/>
<path d="M565,200 L580,400" class="ck"/>
<path d="M580,310 L1095,600 L1090,700 L1140,740 M570,400 L1090,715" class="cs"/>
<path d="M760,390 L765,280 L800,260 L830,290 L825,330" class="cs"/>
<path d="M750,580 L790,580 M760,590 L760,680" class="ck"/>
<path d="M760,680 L920,780 L945,780 L945,705" class="cs"/>
<path d="M510,430 L540,490 L580,500 L580,470" class="cs"/>
<path d="M1130,0 L1110,200 L1120,300 L1130,600 L1170,760 L1195,830 L1190,930 L1035,935 L990,1099 M1200,0 L1130,300 M1160,0 L1115,200" class="cs"/>
<path d="M1085,770 L1080,820 L1130,870 L1150,840 L1140,790" class="cs"/>
<path d="M330,990 L480,960 L560,970 L640,960 L860,1099 M420,1000 L560,1099 M640,990 L800,1099" class="cs"/>
</g>
<g transform="translate(1160 845) scale(0.08826)">
<path d="M115,65 L330,20 M115,65 L200,120 L570,215 L720,300 L790,310 L960,270 L1000,240 L1070,30 L1220,35 L1220,0" class="cs"/>
<path d="M180,75 L340,60 L540,190 L610,210 M210,100 L340,70 M330,20 L600,190 M420,80 L610,150" class="cs"/>
<path d="M470,60 L740,130 L620,170 L630,220 M640,0 L860,140 L830,160 L640,30 M800,170 L900,230 L760,250 L750,280 M1030,0 L980,170 L930,210 L880,220" class="cs"/>
<path d="M480,915 L540,880 L670,855 L760,890 L760,960 L700,1000 L540,1005 L490,965 Z" class="pw"/>
<path d="M540,880 L500,940 L700,935 L760,890" class="cs"/>
<path d="M700,880 L760,890 L760,960 L700,1000 Z" class="pf"/>
</g>
<ellipse cx="51" cy="380.1" rx="12.1" ry="11.6" class="c"/>
<text x="51" y="386.40000000000003" class="n" font-size="17.8" text-anchor="middle">1</text>
<ellipse cx="221.1" cy="380.1" rx="12.1" ry="11.6" class="c"/>
<text x="221.1" y="386.40000000000003" class="n" font-size="17.8" text-anchor="middle">2</text>
<ellipse cx="480" cy="380.1" rx="12.1" ry="11.6" class="c"/>
<text x="480" y="386.40000000000003" class="n" font-size="17.8" text-anchor="middle">3</text>
<ellipse cx="647.6" cy="380.1" rx="12.1" ry="11.6" class="c"/>
<text x="647.6" y="386.40000000000003" class="n" font-size="17.8" text-anchor="middle">4</text>
<ellipse cx="801.9" cy="380.1" rx="12.1" ry="11.6" class="c"/>
<text x="801.9" y="386.40000000000003" class="n" font-size="17.8" text-anchor="middle">5</text>
<ellipse cx="956.4" cy="380.1" rx="12.1" ry="11.6" class="c"/>
<text x="956.4" y="386.40000000000003" class="n" font-size="17.8" text-anchor="middle">6</text>
<ellipse cx="1227.8" cy="380.1" rx="12.1" ry="11.6" class="c"/>
<text x="1227.8" y="386.40000000000003" class="n" font-size="17.8" text-anchor="middle">7</text>
<ellipse cx="44" cy="616.8" rx="12.1" ry="11.6" class="c"/>
<text x="44" y="623.0999999999999" class="n" font-size="17.8" text-anchor="middle">8</text>
<ellipse cx="486.1" cy="616.8" rx="12.1" ry="11.6" class="c"/>
<text x="486.1" y="623.0999999999999" class="n" font-size="17.8" text-anchor="middle">9</text>
<ellipse cx="792.8" cy="616.8" rx="12.1" ry="11.6" class="c"/>
<text x="792.8" y="623.0999999999999" class="n" font-size="17.8" textLength="17" lengthAdjust="spacingAndGlyphs" text-anchor="middle">10</text>
<ellipse cx="1184.6" cy="616.8" rx="12.1" ry="11.6" class="c"/>
<text x="1184.6" y="623.0999999999999" class="n" font-size="17.8" textLength="17" lengthAdjust="spacingAndGlyphs" text-anchor="middle">11</text>
<path d="M32 422.2V398.2" class="bd"/><path d="M32 398.2H190.2" class="bd"/><path d="M190.2 398.2V422.2" class="bd"/>
<path d="M201.8 422.2V398.2" class="bd"/><path d="M201.8 398.2H449.6" class="bd"/><path d="M449.6 398.2V422.2" class="bd"/>
<path d="M461.7 422.2V398.2" class="bd"/><path d="M461.7 398.2H616.7" class="bd"/><path d="M616.7 398.2V422.2" class="bd"/>
<path d="M628.7 422.2V398.2" class="bd"/><path d="M628.7 398.2H771.2" class="bd"/><path d="M771.2 398.2V422.2" class="bd"/>
<path d="M783.8 422.2V398.2" class="bd"/><path d="M783.8 398.2H926.3" class="bd"/><path d="M926.3 398.2V422.2" class="bd"/>
<path d="M938.3 422.2V398.2" class="bd"/><path d="M938.3 398.2H1203.4" class="bd"/><path d="M1203.4 398.2V422.2" class="bd"/>
<path d="M1216.2 422.2V398.2" class="bd"/><path d="M1216.2 398.2H1558.6" class="bd"/><path d="M1558.6 398.2V422.2" class="bd"/>
<path d="M32.8 657.7V634.7" class="bd"/><path d="M32.8 634.7H463.2" class="bs"/><path d="M463.2 634.7V657.7" class="bd"/>
<path d="M476 657.7V634.7" class="bd"/><path d="M476 634.7H760.6" class="bs"/><path d="M760.6 634.7V657.7" class="bd"/>
<path d="M773.4 657.7V634.7" class="bd"/><path d="M773.4 634.7H1153.5" class="bs"/><path d="M1153.5 634.7V657.7" class="bd"/>
<path d="M1166.7 657.7V634.7" class="bd"/><path d="M1166.7 634.7H1558.5" class="bs"/><path d="M1558.5 634.7V657.7" class="bd"/>
<text transform="translate(115.6 473.2) scale(1 1.122)" class="L" font-size="20.8" textLength="72.6" lengthAdjust="spacingAndGlyphs">81080L</text>
<path d="M98 465.5H112.6" class="ld"/>
<text transform="translate(284 473.2) scale(1 1.122)" class="L" font-size="20.8" textLength="59.0" lengthAdjust="spacingAndGlyphs">81081</text>
<path d="M312.8 474.5V488.6" class="ld"/>
<text transform="translate(540.8 473.2) scale(1 1.122)" class="L" font-size="20.8" textLength="74.2" lengthAdjust="spacingAndGlyphs">81080H</text>
<path d="M524.5 465.5H538.3" class="ld"/>
<text transform="translate(691.6 473.2) scale(1 1.122)" class="L" font-size="20.8" textLength="72.8" lengthAdjust="spacingAndGlyphs">81080K</text>
<path d="M672.7 465.5H688.5" class="ld"/>
<text transform="translate(861.7 473.2) scale(1 1.122)" class="L" font-size="20.8" textLength="59.8" lengthAdjust="spacingAndGlyphs">81260</text>
<path d="M845.4 465.5H859.2" class="ld"/>
<text transform="translate(1040.1 483.3) scale(1 1.122)" class="L" font-size="20.8" textLength="72.1" lengthAdjust="spacingAndGlyphs">81230B</text>
<path d="M1027.5 475.6H1037.6" class="lt"/>
<path d="M1112.5 475.6H1123.5" class="lt"/>
<text transform="translate(1138.8 485.7) scale(1 1.122)" class="L" font-size="20.8" textLength="59.2" lengthAdjust="spacingAndGlyphs">81230</text>
<path d="M1123.5 477.1H1136.8" class="ld"/>
<path d="M1020 440.4H1123.5V516.3H1077.8" class="lt"/>
<text transform="translate(1335 476.8) scale(1 1.122)" class="L" font-size="20.8" textLength="72.0" lengthAdjust="spacingAndGlyphs">81340B</text>
<path d="M1320 468.5H1333" class="lt"/>
<path d="M1407 468.5H1418.3" class="lt"/>
<path d="M1283.5 439.5H1418.3V468.5" class="ld"/>
<path d="M1418.3 454.2H1431.4" class="ld"/>
<text transform="translate(1346.7 561.2) scale(1 1.122)" class="L" font-size="20.8" textLength="58.9" lengthAdjust="spacingAndGlyphs">81340</text>
<path d="M1328.2 553.5H1344.7" class="ld"/>
<text transform="translate(1433.3 439.2) scale(1 0.951)" class="L" font-size="18.8" textLength="90.3" lengthAdjust="spacingAndGlyphs">REFER TO</text>
<text transform="translate(1433.3 460.09999999999997) scale(1 0.951)" class="L" font-size="18.8" textLength="101.2" lengthAdjust="spacingAndGlyphs">FIG 82-02</text>
<text transform="translate(1435.3 481.9) scale(1 1.027)" class="R" font-size="17.7" textLength="115.3" lengthAdjust="spacingAndGlyphs">(PNC 82171)</text>
<text transform="translate(233 713.3000000000001) scale(1 1.122)" class="L" font-size="20.8" textLength="72.0" lengthAdjust="spacingAndGlyphs">81936C</text>
<text transform="translate(128 731.9000000000001) scale(1 1.122)" class="L" font-size="20.8" textLength="72.7" lengthAdjust="spacingAndGlyphs">81260C</text>
<text transform="translate(226.8 991.1) scale(1 1.122)" class="L" font-size="20.8" textLength="60.4" lengthAdjust="spacingAndGlyphs">81363</text>
<path d="M116.4 686.5H215.6V723.8" class="ld"/>
<path d="M215.6 705.6H231.3" class="lt"/>
<path d="M200.7 723.8H215.6" class="lt"/>
<path d="M112 723.8H126" class="lt"/>
<path d="M305 705.6H319V983.4H287.2" class="lt"/>
<path d="M237 852.1H319" class="lt"/>
<path d="M319 852.1H333" class="ld"/>
<path d="M196 983.4H225.5" class="lt"/>
<text transform="translate(335 829.6999999999999) scale(1 0.951)" class="L" font-size="18.8" textLength="90.3" lengthAdjust="spacingAndGlyphs">REFER TO</text>
<text transform="translate(335 850.6) scale(1 0.951)" class="L" font-size="18.8" textLength="101.3" lengthAdjust="spacingAndGlyphs">FIG 64-02</text>
<text transform="translate(336.7 872.3) scale(1 1.027)" class="R" font-size="17.7" textLength="126.7" lengthAdjust="spacingAndGlyphs">(PNC 63605B)</text>
<path d="M108.2 731V820" class="dash"/>
<path d="M108.2 749.2L154.8 775.3" class="dash"/>
<path d="M131.7 763V835" class="dash"/>
<path d="M154.8 775.3V846" class="dash"/>
<path d="M146.2 895V960" class="dash"/>
<path d="M556.2 708.5H683.8" class="lt"/>
<path d="M683.8 708.5V836.1" class="lt"/>
<path d="M542.8 744.3H683.8" class="ld"/>
<path d="M571.9 836.1H683.8" class="ld"/>
<text transform="translate(598 780.0) scale(1 1.122)" class="L" font-size="20.8" textLength="72.0" lengthAdjust="spacingAndGlyphs">81330B</text>
<text transform="translate(698.7 780.7) scale(1 1.122)" class="L" font-size="20.8" textLength="58.9" lengthAdjust="spacingAndGlyphs">81330</text>
<path d="M585 772.3H597" class="ld"/>
<path d="M670 772.3H696.9" class="lt"/>
<text transform="translate(974.5 713.3000000000001) scale(1 1.122)" class="L" font-size="20.8" textLength="72.7" lengthAdjust="spacingAndGlyphs">81360U</text>
<text transform="translate(870 731.9000000000001) scale(1 1.122)" class="L" font-size="20.8" textLength="72.0" lengthAdjust="spacingAndGlyphs">81390B</text>
<text transform="translate(1080 800.5) scale(1 1.122)" class="L" font-size="20.8" textLength="72.4" lengthAdjust="spacingAndGlyphs">81360T</text>
<path d="M857.7 686.5H957V724.2" class="ld"/>
<path d="M957 705.6H973.5" class="lt"/>
<path d="M942 724.2H957" class="lt"/>
<path d="M854 723.8H868" class="lt"/>
<path d="M1047.2 705.6H1061V878.3" class="lt"/>
<path d="M949.5 878.3H1061" class="ld"/>
<path d="M1061 791.7H1078.9" class="lt"/>
<path d="M849.9 731V823" class="dash"/>
<path d="M849.9 749.2L896.1 775.3" class="dash"/>
<path d="M873.8 762V835" class="dash"/>
<path d="M896.1 775.3V846" class="dash"/>
<path d="M1270.5 773.4H1372V927.5H1361.2" class="ld"/>
<path d="M1372 849.2H1391.7" class="ld"/>
<text transform="translate(1394.7 834.9) scale(1 0.951)" class="L" font-size="18.8" textLength="90.3" lengthAdjust="spacingAndGlyphs">REFER TO</text>
<text transform="translate(1394.7 855.8) scale(1 0.951)" class="L" font-size="18.8" textLength="100.3" lengthAdjust="spacingAndGlyphs">FIG 71-01</text>
<text transform="translate(1396.5 877.5) scale(1 1.027)" class="R" font-size="17.7" textLength="157.5" lengthAdjust="spacingAndGlyphs">(PNC 71705(RH))</text>
<text transform="translate(1396.5 898.8) scale(1 1.027)" class="R" font-size="17.7" textLength="157.5" lengthAdjust="spacingAndGlyphs">(PNC 71706(LH))</text>
<text transform="translate(1244.4 925.5) scale(1 1.122)" class="L" font-size="20.8" textLength="120.6" lengthAdjust="spacingAndGlyphs">81080P(RH)</text>
<text transform="translate(1244.4 945.3000000000001) scale(1 1.122)" class="L" font-size="20.8" textLength="120.6" lengthAdjust="spacingAndGlyphs">81080S(LH)</text>
<path d="M1224 927.5H1240.7" class="lt"/>
<path d="M1212.7 867V919" class="dash"/>
<text x="1509.9" y="1075.8" font-family="Liberation Sans, sans-serif" font-size="20.5" textLength="58.2" lengthAdjust="spacingAndGlyphs">816253</text>
<ellipse cx="1071.3" cy="43.6" rx="12.1" ry="11.6" class="c"/>
<text x="1071.3" y="49.9" class="n" font-size="17.8" text-anchor="middle">6</text>
<ellipse cx="1110" cy="43.6" rx="12.1" ry="11.6" class="c"/>
<text x="1110" y="49.9" class="n" font-size="17.8" text-anchor="middle">7</text>
<ellipse cx="1137.9" cy="43.6" rx="12.1" ry="11.6" class="c"/>
<text x="1137.9" y="49.9" class="n" font-size="17.8" text-anchor="middle">8</text>
<ellipse cx="1168.4" cy="43.6" rx="12.1" ry="11.6" class="c"/>
<text x="1168.4" y="49.9" class="n" font-size="17.8" text-anchor="middle">7</text>
<ellipse cx="1200.6" cy="43.6" rx="12.1" ry="11.6" class="c"/>
<text x="1200.6" y="49.9" class="n" font-size="17.8" text-anchor="middle">6</text>
<ellipse cx="1234.6" cy="43.6" rx="12.1" ry="11.6" class="c"/>
<text x="1234.6" y="49.9" class="n" font-size="17.8" textLength="17" lengthAdjust="spacingAndGlyphs" text-anchor="middle">10</text>
<ellipse cx="1324.5" cy="41.7" rx="12.1" ry="11.6" class="c"/>
<text x="1324.5" y="48.0" class="n" font-size="17.8" text-anchor="middle">9</text>
<ellipse cx="1122.4" cy="346" rx="12.1" ry="11.6" class="c"/>
<text x="1122.4" y="352.3" class="n" font-size="17.8" textLength="17" lengthAdjust="spacingAndGlyphs" text-anchor="middle">11</text>
<ellipse cx="1172.4" cy="346" rx="12.1" ry="11.6" class="c"/>
<text x="1172.4" y="352.3" class="n" font-size="17.8" textLength="17" lengthAdjust="spacingAndGlyphs" text-anchor="middle">11</text>
<ellipse cx="1211" cy="346" rx="12.1" ry="11.6" class="c"/>
<text x="1211" y="352.3" class="n" font-size="17.8" text-anchor="middle">6</text>
<ellipse cx="1289.9" cy="346" rx="12.1" ry="11.6" class="c"/>
<text x="1289.9" y="352.3" class="n" font-size="17.8" text-anchor="middle">6</text>
<ellipse cx="297" cy="43.6" rx="12.1" ry="11.6" class="c"/>
<text x="297" y="49.9" class="n" font-size="17.8" text-anchor="middle">1</text>
<ellipse cx="409.6" cy="43.6" rx="12.1" ry="11.6" class="c"/>
<text x="409.6" y="49.9" class="n" font-size="17.8" text-anchor="middle">2</text>
<ellipse cx="456.5" cy="43.6" rx="12.1" ry="11.6" class="c"/>
<text x="456.5" y="49.9" class="n" font-size="17.8" text-anchor="middle">3</text>
<ellipse cx="427" cy="327.6" rx="12.1" ry="11.6" class="c"/>
<text x="427" y="333.90000000000003" class="n" font-size="17.8" text-anchor="middle">5</text>
<ellipse cx="491.5" cy="327.6" rx="12.1" ry="11.6" class="c"/>
<text x="491.5" y="333.90000000000003" class="n" font-size="17.8" text-anchor="middle">4</text>
<path d="M1071.3 55.8V70" class="ld"/>
<path d="M1110 55.8V70" class="ld"/>
<path d="M1137.9 55.8V70" class="ld"/>
<path d="M1168.4 55.8V70" class="ld"/>
<path d="M1200.6 55.8V70" class="ld"/>
<path d="M1234.6 55.8V70" class="lt"/>
<path d="M1324.5 54V70" class="lt"/>
<path d="M296.9 55.5V71" class="ld"/>
<path d="M409.9 55.5V71" class="ld"/>
<path d="M456.7 55.5V71" class="lt"/>
</svg>
</body></html>
